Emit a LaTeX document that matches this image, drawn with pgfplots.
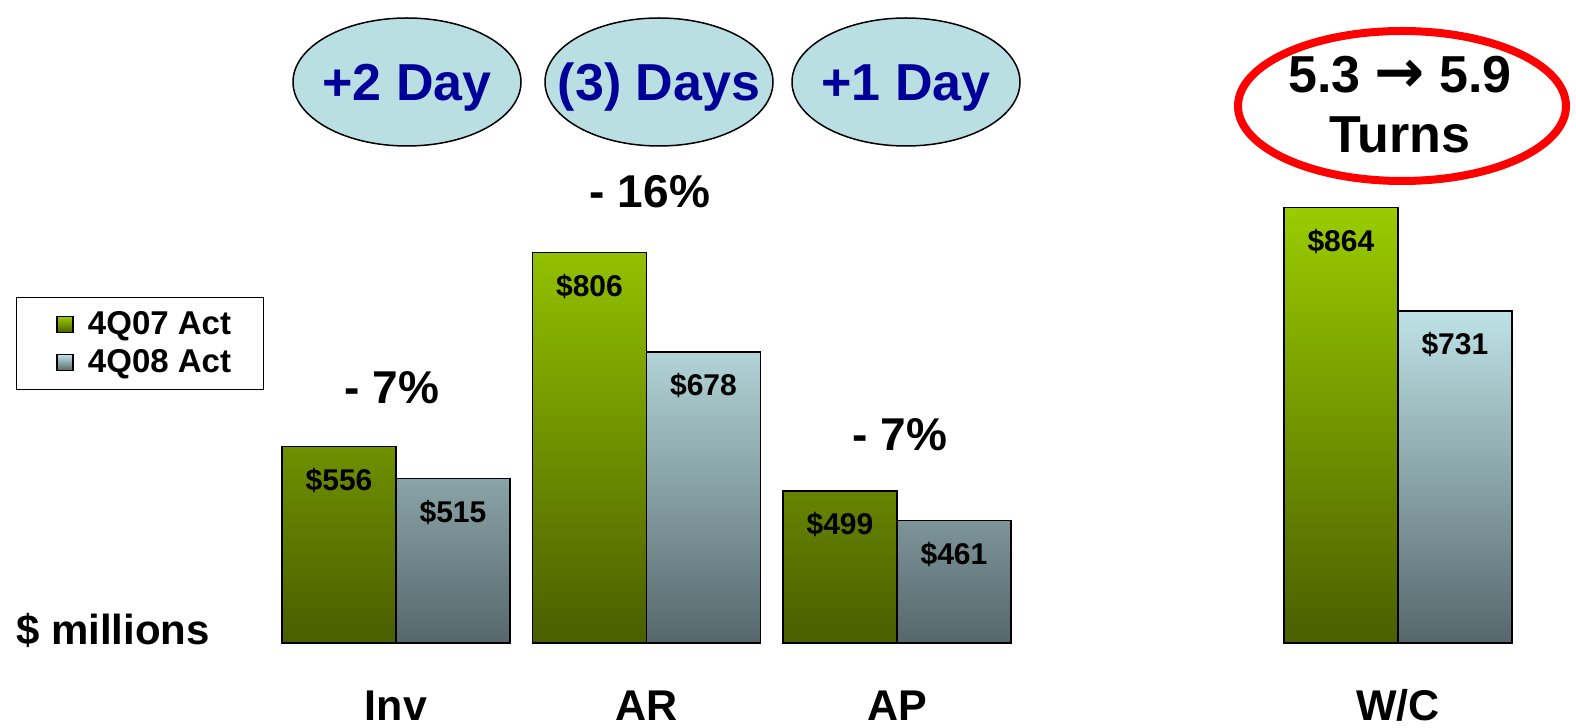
\documentclass[border=0pt]{standalone}
\usepackage{fontspec}
\setmainfont{Liberation Sans}
\newfontfamily\arrowfont{DejaVu Sans}
\usepackage{pgfplots}
\pgfplotsset{compat=1.18}
\definecolor{gtop}{HTML}{9ACC00}
\definecolor{gbot}{HTML}{4A5E00}
\definecolor{btop}{HTML}{BEE2E6}
\definecolor{bbot}{HTML}{56676B}
\definecolor{ellfill}{HTML}{B9DFE3}
\definecolor{elltext}{HTML}{000099}
\begin{document}
\begin{tikzpicture}
\begin{axis}[
  at={(0pt,42.5pt)}, anchor=south west,
  scale only axis, width=788pt, height=321.5pt,
  xmin=-1.581, xmax=4.711, ymin=0, ymax=828.6,
  hide axis,
  clip=false,
  ybar, bar width=0.455,
  y filter/.expression={y-303},
  point meta=explicit symbolic,
  nodes near coords={\$\pgfplotspointmeta},
  every node near coord/.append style={anchor=base, yshift=-22pt, font=\fontsize{15}{18}\selectfont\bfseries, text=black},
  legend image code/.code={\path (0pt,0pt); \draw[#1] (6pt,-4pt) rectangle (14pt,4pt);},
  legend cell align=left,
  legend style={at={(0.01015,0.5381)}, anchor=north west, draw=black, line width=0.5pt,
    font=\fontsize{16.5}{20}\selectfont\bfseries, inner xsep=14pt, inner ysep=5pt,
    row sep=2pt,
    /tikz/every odd column/.append style={column sep=5pt}},
]
\addplot[bar shift=-0.2275, draw=black, line width=0.75pt, top color=gtop, bottom color=gbot]
  coordinates {(0,556)[556] (1,806)[806] (2,499)[499] (4,864)[864]};
\addplot[bar shift=0.2275, draw=black, line width=0.75pt, top color=btop, bottom color=bbot]
  coordinates {(0,515)[515] (1,678)[678] (2,461)[461] (4,731)[731]};
\legend{4Q07 Act, 4Q08 Act}
\end{axis}
\begin{scope}[x=0.5pt, y=-0.5pt, shift={(0pt,364pt)}]
  \tikzset{ell/.style={draw=black, line width=0.75pt, fill=ellfill},
           etext/.style={anchor=base, text=elltext, font=\fontsize{26}{31}\selectfont\bfseries},
           btext/.style={anchor=base, text=black, font=\fontsize{23}{28}\selectfont\bfseries},
           ctext/.style={anchor=base, text=black, font=\fontsize{21.5}{26}\selectfont\bfseries}}
  \draw[ell] (407,82) ellipse [x radius=57pt, y radius=32pt];
  \draw[ell] (659,82) ellipse [x radius=57pt, y radius=32pt];
  \draw[ell] (906,82) ellipse [x radius=57pt, y radius=32pt];
  \node[etext] at (407,101) {+2 Day};
  \node[etext] at (659,101) {(3) Days};
  \node[etext] at (906,101) {+1 Day};
  \draw[red, line width=4pt, fill=white] (1402,106) ellipse [x radius=82pt, y radius=37.5pt];
  \node[anchor=base, font=\fontsize{26}{31}\selectfont\bfseries] at (1400,93)
    {5.3 {\arrowfont\bfseries\fontsize{30}{30}\selectfont →} 5.9};
  \node[anchor=base, font=\fontsize{26}{31}\selectfont\bfseries] at (1400,153) {Turns};
  \node[btext] at (650,208) {- 16\%};
  \node[btext] at (392,403.5) {- 7\%};
  \node[btext] at (900,451) {- 7\%};
  \node[anchor=base west, font=\fontsize{21}{25}\selectfont\bfseries] at (9,645) {\$ millions};
  \node[ctext] at (396,721) {Inv};
  \node[ctext] at (646.5,721) {AR};
  \node[ctext] at (897,721) {AP};
  \node[ctext] at (1398,721) {W/C};
\end{scope}
\pgfresetboundingbox
\path (0pt,0pt) rectangle (788pt,364pt);
\end{tikzpicture}
\end{document}
